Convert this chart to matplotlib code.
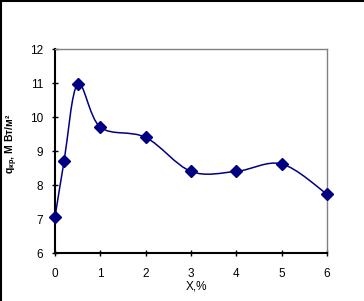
import matplotlib
matplotlib.use("Agg")
import matplotlib.pyplot as plt
from matplotlib.path import Path
from matplotlib.patches import PathPatch
from matplotlib.lines import Line2D
import numpy as np

plt.rcParams['font.family'] = ['Liberation Sans', 'DejaVu Sans']
plt.rcParams['mathtext.fontset'] = 'custom'
plt.rcParams['mathtext.rm'] = 'Liberation Sans'
plt.rcParams['mathtext.it'] = 'Liberation Sans:italic'
plt.rcParams['mathtext.bf'] = 'Liberation Sans:bold'

x_vals = [0, 0.2, 0.5, 1, 2, 3, 4, 5, 6]
q_vals = [7.05, 8.7, 10.97, 9.7, 9.4, 8.4, 8.4, 8.62, 7.73]
x_ticks = [0, 1, 2, 3, 4, 5, 6]
y_ticks = [6, 7, 8, 9, 10, 11, 12]

fig = plt.figure(figsize=(3.64, 3.01), dpi=100)
ax = fig.add_axes([55/364, 1-253/301, (327-55)/364, (253-49)/301])

# smoothed line (Catmull-Rom style Bezier like Excel)
px = np.array(x_vals, float)
py = np.array(q_vals, float)
n = len(px)
verts = [(px[0], py[0])]
codes = [Path.MOVETO]
for i in range(n-1):
    p0 = np.array([px[max(i-1, 0)], py[max(i-1, 0)]])
    p1 = np.array([px[i], py[i]])
    p2 = np.array([px[i+1], py[i+1]])
    p3 = np.array([px[min(i+2, n-1)], py[min(i+2, n-1)]])
    c1 = p1 + (p2 - p0) / 6
    c2 = p2 - (p3 - p1) / 6
    verts += [tuple(c1), tuple(c2), tuple(p2)]
    codes += [Path.CURVE4]*3
ax.add_patch(PathPatch(Path(verts, codes), fill=False, edgecolor='#000080', lw=1.1, zorder=2))
ax.plot(x_vals, q_vals, linestyle='none', marker='D', markersize=6.5,
        color='#000080', zorder=3, clip_on=False)

ax.set_xlim(0, 6)
ax.set_ylim(6, 12)
ax.set_xticks(x_ticks)
ax.set_yticks(y_ticks)
ax.tick_params(direction='inout', length=4, width=1, labelsize=8.5, colors='black')
ax.tick_params(axis='x', pad=8.5)
ax.tick_params(axis='y', pad=6.5)

for s in ['top', 'right']:
    ax.spines[s].set_color('#808080')
    ax.spines[s].set_linewidth(1)
for s in ['left', 'bottom']:
    ax.spines[s].set_color('black')
    ax.spines[s].set_linewidth(1.5)

ax.set_xlabel('X,%', fontsize=8.5, labelpad=0)
ax.xaxis.set_label_coords(0.52, -0.135)
ax.set_ylabel(r'$\mathbf{q_{кр}}$, М Вт/м²', fontsize=7.5, fontweight='bold')
ax.yaxis.set_label_coords(-0.128, 0.534)

# outer frame lines (left and top)
fig.add_artist(Line2D([0.5/364, 0.5/364], [0, 1], color='black', lw=1.5, transform=fig.transFigure))
fig.add_artist(Line2D([0, 1], [1-0.5/301, 1-0.5/301], color='black', lw=1.5, transform=fig.transFigure))

fig.savefig('out.png', dpi=100)
